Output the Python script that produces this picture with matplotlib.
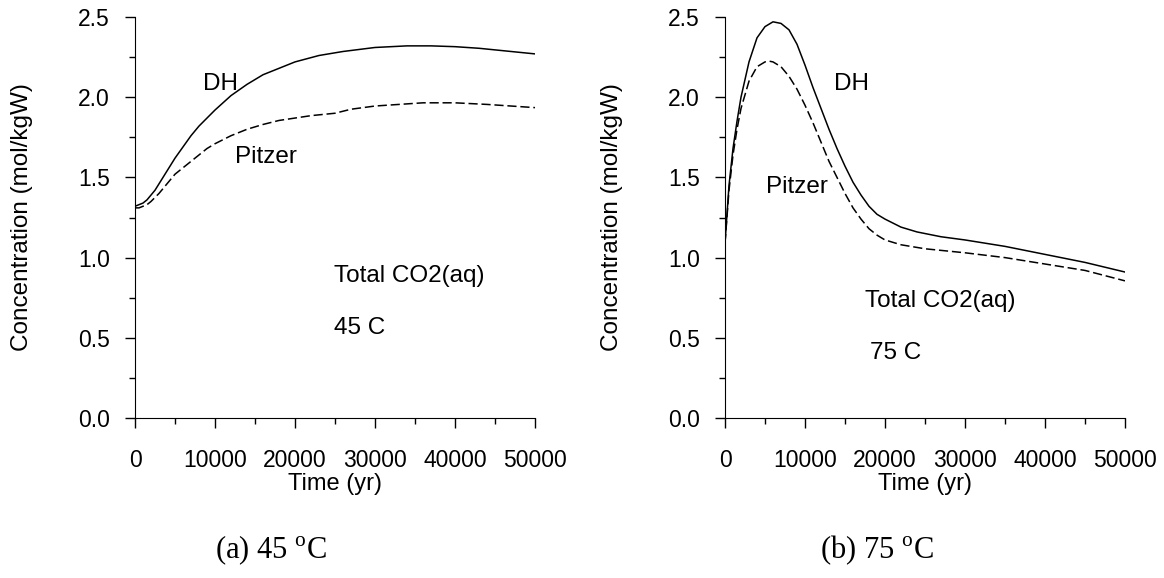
# CO2(aq) concentration vs time, DH vs Pitzer, at 45 C and 75 C

import matplotlib.pyplot as plt
from matplotlib.ticker import MultipleLocator

plt.rcParams['font.family'] = ['Liberation Sans', 'DejaVu Sans']
plt.rcParams['mathtext.fontset'] = 'custom'
plt.rcParams['mathtext.rm'] = 'Liberation Serif'

# 45 C panel
t45_dh = [0, 500, 1000, 1500, 2000, 2500, 3000, 4000, 5000, 6000, 7000, 8000, 9000, 10000,
          12000, 14000, 16000, 18000, 20000, 23000, 26000, 30000, 34000, 37000, 40000, 43000, 46000, 50000]
c45_dh = [1.32, 1.33, 1.34, 1.36, 1.39, 1.42, 1.46, 1.54, 1.62, 1.69, 1.76, 1.82, 1.87, 1.92,
          2.01, 2.08, 2.14, 2.18, 2.22, 2.26, 2.285, 2.31, 2.32, 2.32, 2.315, 2.305, 2.29, 2.27]
t45_pz = [0, 500, 1000, 1500, 2000, 3000, 4000, 5000, 6000, 7000, 8000, 9000, 10000, 12000,
          14000, 16000, 18000, 20000, 22000, 24000, 25000, 27000, 30000, 33000, 36000, 40000, 44000, 50000]
c45_pz = [1.31, 1.31, 1.32, 1.33, 1.35, 1.40, 1.46, 1.52, 1.56, 1.60, 1.64, 1.68, 1.71, 1.76,
          1.80, 1.83, 1.855, 1.87, 1.885, 1.895, 1.90, 1.925, 1.945, 1.955, 1.965, 1.965, 1.955, 1.935]

# 75 C panel
t75_dh = [0, 500, 1000, 1500, 2000, 3000, 4000, 5000, 6000, 7000, 8000, 9000, 10000, 11000,
          12000, 13000, 14000, 15000, 16000, 17000, 18000, 19000, 20000, 22000, 24000, 27000,
          30000, 35000, 40000, 45000, 50000]
c75_dh = [1.09, 1.45, 1.68, 1.85, 2.00, 2.22, 2.37, 2.44, 2.47, 2.46, 2.42, 2.33, 2.20, 2.06,
          1.93, 1.80, 1.68, 1.57, 1.47, 1.39, 1.32, 1.27, 1.24, 1.19, 1.16, 1.13,
          1.11, 1.07, 1.02, 0.97, 0.91]
t75_pz = [0, 500, 1000, 1500, 2000, 3000, 4000, 5000, 5500, 6000, 7000, 8000, 9000, 10000,
          11000, 12000, 13000, 14000, 15000, 16000, 17000, 18000, 19000, 20000, 22000, 25000,
          30000, 35000, 40000, 45000, 50000]
c75_pz = [1.09, 1.42, 1.64, 1.80, 1.93, 2.10, 2.19, 2.22, 2.225, 2.22, 2.19, 2.13, 2.05, 1.95,
          1.84, 1.72, 1.60, 1.50, 1.40, 1.31, 1.24, 1.18, 1.14, 1.11, 1.08, 1.055,
          1.03, 1.00, 0.96, 0.92, 0.855]

fig = plt.figure(figsize=(11.64, 5.78), dpi=100)
ax1 = fig.add_axes([135 / 1164, 160 / 578, 400 / 1164, 401 / 578])
ax2 = fig.add_axes([725 / 1164, 160 / 578, 400 / 1164, 401 / 578])

panels = [
    (ax1, t45_dh, c45_dh, t45_pz, c45_pz,
     [(8500, 2.08, 'DH'), (12440, 1.625, 'Pitzer'), (24900, 0.885, 'Total CO2(aq)'), (24900, 0.5625, '45 C')],
     '(a) 45 $^{\\rm o}$C', 271),
    (ax2, t75_dh, c75_dh, t75_pz, c75_pz,
     [(13650, 2.08, 'DH'), (5125, 1.4375, 'Pitzer'), (17470, 0.73, 'Total CO2(aq)'), (18080, 0.406, '75 C')],
     '(b) 75 $^{\\rm o}$C', 877),
]

for ax, tdh, cdh, tpz, cpz, notes, cap, capx in panels:
    ax.plot(tdh, cdh, '-', color='black', lw=1.1)
    ax.plot(tpz, cpz, '--', color='black', lw=1.1, dashes=(6, 2.5))
    for x, y, s in notes:
        ax.text(x, y, s, fontsize=17.5, va='center', ha='left')
    ax.set_xlim(0, 50000)
    ax.set_ylim(0, 2.5)
    ax.spines['top'].set_visible(False)
    ax.spines['right'].set_visible(False)
    ax.xaxis.set_major_locator(MultipleLocator(10000))
    ax.xaxis.set_minor_locator(MultipleLocator(5000))
    ax.yaxis.set_major_locator(MultipleLocator(0.5))
    ax.yaxis.set_minor_locator(MultipleLocator(0.25))
    ax.yaxis.set_major_formatter(plt.FormatStrFormatter('%.1f'))
    ax.tick_params(which='major', length=7.2, width=1, labelsize=16.5, direction='out')
    ax.tick_params(which='minor', length=4.5, width=1, direction='out')
    ax.tick_params(axis='x', which='major', pad=15)
    ax.tick_params(axis='y', which='major', pad=11)
    ax.set_xlabel('Time (yr)', fontsize=17)
    ax.xaxis.set_label_coords(0.5, -(484 - 418) / 401)
    ax.xaxis.label.set_va('center')
    ax.set_ylabel('Concentration (mol/kgW)', fontsize=17.5)
    ax.yaxis.set_label_coords(-(135 - 22) / 400, 0.5)
    ax.yaxis.label.set_va('center')
    fig.text(capx / 1164, (578 - 550) / 578, cap, fontsize=22, family=['Liberation Serif'],
             ha='center', va='center')

fig.savefig('out.png', dpi=100)
